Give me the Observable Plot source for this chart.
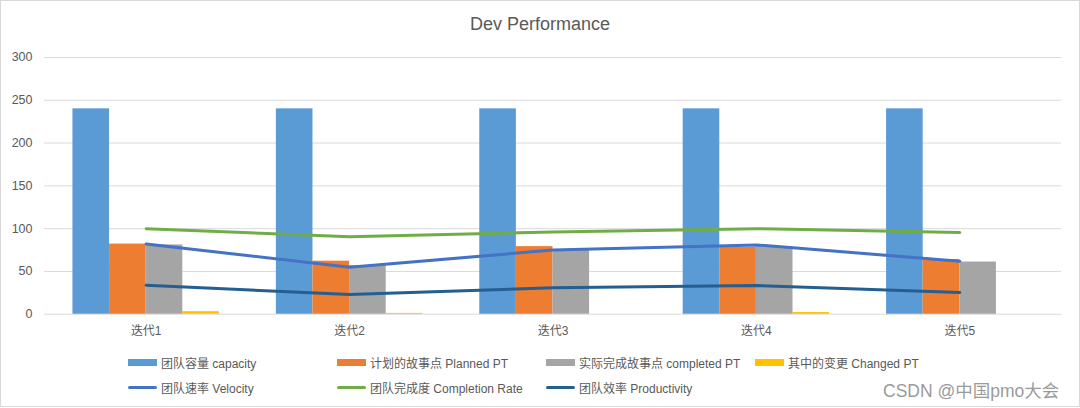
<!DOCTYPE html>
<html>
<head>
<meta charset="utf-8">
<script src="https://cdn.jsdelivr.net/npm/d3@7"></script>
<script src="https://cdn.jsdelivr.net/npm/@observablehq/plot@0.6"></script>
<style>
  html, body { margin: 0; padding: 0; background: #fff; }
  #frame { position: relative; width: 1078px; height: 405px; border: 1px solid #d9d9d9; overflow: hidden;
           font-family: "Liberation Sans", "Noto Sans CJK SC", sans-serif; color: #595959; }
  #title { position: absolute; left: 0; top: 13px; width: 1078px; text-align: center; font-size: 18px; }
  #chart { position: absolute; left: -1px; top: 44px; }
  .leg { position: absolute; font-size: 12px; display: flex; align-items: center; white-space: nowrap; font-family: "Liberation Sans", "Noto Sans CJK SC", sans-serif; }
  .sw { display: inline-block; width: 29px; margin-right: 4px; }
  #wm { position: absolute; left: 882px; top: 376px; font-size: 17.5px; color: #9a9a9a; font-family: "Liberation Sans", "Noto Sans CJK SC", sans-serif; }
</style>
</head>
<body>
<div id="frame">
  <div id="title">Dev Performance</div>
  <div id="chart"></div>
  <div id="legend"></div>
  <div id="wm">CSDN @中国pmo大会</div>
</div>
<script>
const categories = ["迭代1", "迭代2", "迭代3", "迭代4", "迭代5"];
const capacity = [240, 240, 240, 240, 240];
const planned = [82, 62, 79, 78, 64];
const completed = [81, 57, 75, 79, 61];
const changed = [3, 1, 0, 2, 0];
const velocity = [82, 55, 75, 81, 62];
const completionRate = [100, 90.5, 96, 100, 95.5];
const productivity = [34, 23, 31, 33.5, 25.5];
const yTicks = [0, 50, 100, 150, 200, 250, 300];

const barSeries = [
  {name: "团队容量 capacity", values: capacity, color: "#5B9BD5"},
  {name: "计划的故事点 Planned PT", values: planned, color: "#ED7D31"},
  {name: "实际完成故事点 completed PT", values: completed, color: "#A5A5A5"},
  {name: "其中的变更 Changed PT", values: changed, color: "#FFC000"}
];
const lineSeries = [
  {name: "团队速率 Velocity", values: velocity, color: "#4472C4"},
  {name: "团队完成度 Completion Rate", values: completionRate, color: "#70AD47"},
  {name: "团队效率 Productivity", values: productivity, color: "#255E91"}
];

const barW = 0.18;
const bars = [];
barSeries.forEach((s, k) => s.values.forEach((v, i) => {
  bars.push({i, k, v, series: s.name, x1: i - 2 * barW + k * barW, x2: i - 2 * barW + (k + 1) * barW});
}));
const lines = [];
lineSeries.forEach(s => s.values.forEach((v, i) => lines.push({i, v, series: s.name})));

const barColor = new Map(barSeries.map(s => [s.name, s.color]));

const chart = Plot.plot({
  width: 1080,
  height: 296,
  marginLeft: 44,
  marginRight: 18,
  marginTop: 12,
  marginBottom: 27,
  style: {fontFamily: "'Liberation Sans','Noto Sans CJK SC',sans-serif", fontSize: "12px", color: "#595959", background: "transparent"},
  x: {domain: [-0.5, 4.5], axis: null},
  y: {domain: [0, 300], axis: null},
  marks: [
    Plot.ruleY(yTicks, {stroke: "#d9d9d9", strokeWidth: 1}),
    Plot.text(yTicks, {x: -0.5, y: d => d, text: d => String(d), textAnchor: "end", dx: -12, fill: "#595959", fontSize: 12.5}),
    Plot.text(categories, {x: (d, i) => i, y: 0, text: d => d, dy: 17, fill: "#595959", fontSize: 12}),
    Plot.rectY(bars, {x1: "x1", x2: "x2", y1: 0, y2: "v", fill: d => barColor.get(d.series)}),
    ...lineSeries.map(s => Plot.line(lines.filter(d => d.series === s.name), {
      x: "i", y: "v", stroke: s.color, strokeWidth: 3, curve: "linear", strokeLinecap: "round", strokeLinejoin: "round"
    }))
  ]
});
document.getElementById("chart").appendChild(chart);

const legend = document.getElementById("legend");
const colX = [127, 336, 545, 754];
barSeries.forEach((s, k) => {
  const el = document.createElement("div");
  el.className = "leg";
  el.style.left = colX[k] + "px";
  el.style.top = "352px";
  el.style.height = "18px";
  el.innerHTML = `<span class="sw" style="height:7px;background:${s.color}"></span>${s.name}`;
  legend.appendChild(el);
});
lineSeries.forEach((s, k) => {
  const el = document.createElement("div");
  el.className = "leg";
  el.style.left = colX[k] + "px";
  el.style.top = "377px";
  el.style.height = "18px";
  el.innerHTML = `<span class="sw" style="height:3px;border-radius:2px;background:${s.color}"></span>${s.name}`;
  legend.appendChild(el);
});
</script>
</body>
</html>
